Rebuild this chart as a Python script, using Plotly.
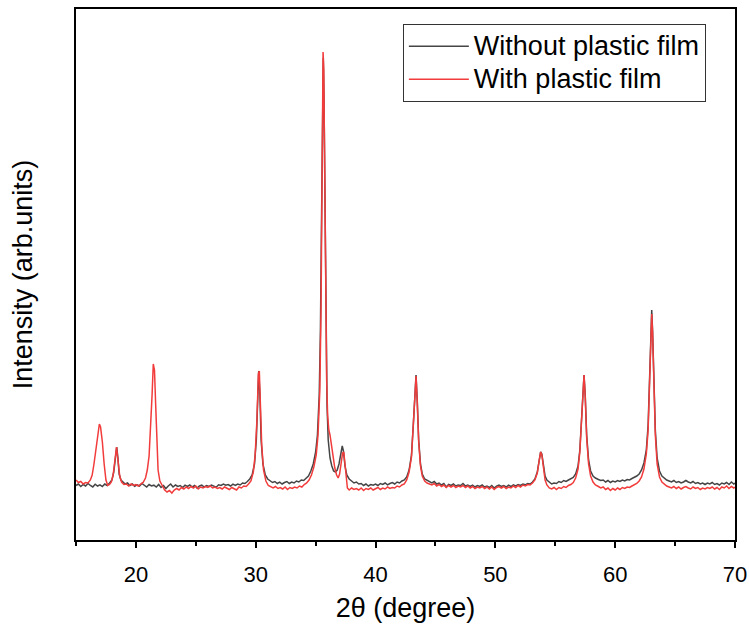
import plotly.graph_objects as go

# 2theta (degree), intensity (arb. units)
without_film_pts = [
    (15.0, 545), (15.2, 560), (15.4, 535), (15.6, 555), (15.8, 540), (16.0, 565), (16.2, 545),
    (16.4, 530), (16.6, 558), (16.8, 540), (17.0, 552), (17.2, 535), (17.4, 560), (17.6, 545),
    (17.8, 570), (18.0, 600), (18.15, 680), (18.3, 860), (18.4, 930), (18.5, 820), (18.6, 660),
    (18.75, 600), (18.9, 585), (19.1, 560), (19.3, 570), (19.5, 545), (19.7, 560), (19.9, 538),
    (20.1, 552), (20.3, 540), (20.5, 565), (20.7, 545), (20.9, 530), (21.1, 555), (21.3, 540),
    (21.5, 548), (21.7, 530), (21.9, 555), (22.1, 525), (22.3, 545), (22.5, 515), (22.7, 540),
    (22.9, 560), (23.1, 530), (23.3, 550), (23.5, 535), (23.7, 545), (23.9, 525), (24.1, 548),
    (24.3, 535), (24.5, 550), (24.7, 530), (24.9, 545), (25.1, 520), (25.3, 540), (25.5, 548),
    (25.7, 530), (25.9, 545), (26.1, 535), (26.3, 550), (26.5, 540), (26.7, 528), (26.9, 552),
    (27.1, 545), (27.3, 560), (27.5, 548), (27.7, 555), (27.9, 540), (28.1, 558), (28.3, 545),
    (28.5, 560), (28.7, 550), (28.9, 570), (29.1, 565), (29.3, 585), (29.5, 610), (29.7, 650),
    (29.9, 760), (30.05, 1000), (30.15, 1380), (30.25, 1690), (30.35, 1450), (30.45, 1000),
    (30.6, 760), (30.8, 650), (31.0, 610), (31.2, 590), (31.4, 575), (31.6, 585), (31.8, 565),
    (32.0, 578), (32.2, 560), (32.4, 575), (32.6, 585), (32.8, 565), (33.0, 580), (33.2, 570),
    (33.4, 590), (33.6, 580), (33.8, 600), (34.0, 595), (34.2, 620), (34.4, 640), (34.6, 690),
    (34.8, 760), (35.0, 880), (35.15, 1050), (35.3, 1450), (35.4, 2100), (35.5, 3300),
    (35.58, 4400), (35.64, 4820), (35.7, 4400), (35.78, 3300), (35.86, 2100), (35.95, 1350),
    (36.05, 1000), (36.2, 820), (36.35, 740), (36.5, 690), (36.65, 680), (36.8, 700),
    (36.95, 760), (37.1, 860), (37.22, 940), (37.32, 890), (37.45, 740), (37.6, 650),
    (37.8, 610), (38.0, 590), (38.2, 570), (38.4, 580), (38.6, 560), (38.8, 565), (39.0, 545),
    (39.2, 560), (39.4, 540), (39.6, 555), (39.8, 548), (40.0, 560), (40.2, 545), (40.4, 565),
    (40.6, 555), (40.8, 570), (41.0, 552), (41.2, 565), (41.4, 575), (41.6, 560), (41.8, 580),
    (42.0, 570), (42.2, 590), (42.4, 600), (42.6, 630), (42.8, 700), (43.0, 850), (43.15, 1150),
    (43.28, 1500), (43.38, 1650), (43.48, 1400), (43.6, 1000), (43.75, 760), (43.9, 660),
    (44.1, 610), (44.3, 595), (44.5, 580), (44.7, 570), (44.9, 585), (45.1, 560), (45.3, 570),
    (45.5, 550), (45.7, 565), (45.9, 530), (46.1, 555), (46.3, 545), (46.5, 560), (46.7, 540),
    (46.9, 550), (47.1, 545), (47.3, 565), (47.5, 540), (47.7, 550), (47.9, 535), (48.1, 548),
    (48.3, 530), (48.5, 545), (48.7, 535), (48.9, 550), (49.1, 530), (49.3, 540), (49.5, 525),
    (49.7, 545), (49.9, 520), (50.1, 538), (50.3, 550), (50.5, 535), (50.7, 545), (50.9, 530),
    (51.1, 548), (51.3, 535), (51.5, 552), (51.7, 540), (51.9, 555), (52.1, 545), (52.3, 560),
    (52.5, 552), (52.7, 565), (52.9, 560), (53.1, 580), (53.3, 610), (53.5, 680), (53.65, 790),
    (53.78, 880), (53.88, 860), (54.0, 740), (54.15, 640), (54.3, 600), (54.5, 575), (54.7, 560),
    (54.9, 570), (55.1, 565), (55.3, 585), (55.5, 575), (55.7, 595), (55.9, 585), (56.1, 600),
    (56.3, 610), (56.5, 625), (56.7, 660), (56.9, 740), (57.05, 900), (57.2, 1250),
    (57.32, 1600), (57.4, 1650), (57.5, 1450), (57.62, 1050), (57.78, 800), (57.95, 690),
    (58.15, 640), (58.35, 620), (58.6, 605), (58.8, 595), (59.0, 600), (59.2, 580), (59.4, 595),
    (59.6, 575), (59.8, 590), (60.0, 580), (60.2, 595), (60.4, 585), (60.6, 600), (60.8, 590),
    (61.0, 605), (61.2, 600), (61.4, 615), (61.6, 625), (61.8, 640), (62.0, 660), (62.2, 700),
    (62.4, 770), (62.6, 900), (62.75, 1150), (62.88, 1600), (62.98, 2100), (63.05, 2300),
    (63.12, 2100), (63.22, 1600), (63.35, 1100), (63.5, 820), (63.7, 690), (63.9, 640),
    (64.1, 615), (64.3, 600), (64.5, 590), (64.7, 580), (64.9, 595), (65.1, 575), (65.3, 585),
    (65.5, 570), (65.7, 580), (65.9, 595), (66.1, 580), (66.3, 570), (66.5, 585), (66.7, 565),
    (66.9, 575), (67.1, 560), (67.3, 570), (67.5, 555), (67.7, 570), (67.9, 560), (68.1, 575),
    (68.3, 555), (68.5, 565), (68.7, 550), (68.9, 570), (69.1, 560), (69.3, 575), (69.5, 555),
    (69.7, 580), (69.9, 560), (70.0, 570),
]

with_film_pts = [
    (15.0, 600), (15.2, 575), (15.4, 585), (15.6, 560), (15.8, 575), (16.0, 570), (16.2, 600),
    (16.35, 650), (16.5, 760), (16.65, 880), (16.8, 1020), (16.95, 1160), (17.05, 1130),
    (17.2, 980), (17.35, 760), (17.5, 600), (17.65, 545), (17.8, 555), (17.95, 580), (18.1, 650),
    (18.25, 800), (18.38, 930), (18.5, 800), (18.65, 640), (18.8, 580), (19.0, 555), (19.2, 560),
    (19.4, 540), (19.6, 560), (19.8, 545), (20.0, 555), (20.2, 540), (20.4, 560), (20.6, 575),
    (20.8, 620), (20.95, 700), (21.1, 840), (21.25, 1150), (21.35, 1450), (21.45, 1760),
    (21.55, 1700), (21.65, 1350), (21.75, 950), (21.85, 700), (22.0, 590), (22.2, 540),
    (22.4, 500), (22.6, 480), (22.8, 495), (23.0, 470), (23.2, 500), (23.4, 515), (23.6, 500),
    (23.8, 525), (24.0, 510), (24.2, 530), (24.4, 515), (24.6, 535), (24.8, 520), (25.0, 540),
    (25.2, 510), (25.4, 530), (25.6, 520), (25.8, 535), (26.0, 525), (26.2, 540), (26.4, 520),
    (26.6, 530), (26.8, 515), (27.0, 525), (27.2, 510), (27.4, 530), (27.6, 520), (27.8, 505),
    (28.0, 525), (28.2, 515), (28.4, 500), (28.6, 530), (28.8, 520), (29.0, 540), (29.2, 535),
    (29.4, 560), (29.6, 590), (29.8, 680), (29.95, 850), (30.1, 1200), (30.22, 1660),
    (30.3, 1690), (30.4, 1350), (30.5, 950), (30.65, 700), (30.85, 590), (31.05, 545),
    (31.25, 530), (31.45, 520), (31.65, 535), (31.85, 515), (32.05, 525), (32.25, 510),
    (32.45, 530), (32.65, 505), (32.85, 525), (33.05, 515), (33.25, 530), (33.45, 520),
    (33.65, 540), (33.85, 530), (34.05, 555), (34.25, 570), (34.45, 600), (34.65, 650),
    (34.85, 730), (35.05, 850), (35.2, 1050), (35.35, 1500), (35.45, 2300), (35.55, 3700),
    (35.62, 4880), (35.68, 4700), (35.76, 3600), (35.84, 2400), (35.92, 1600), (36.0, 1250),
    (36.1, 1100), (36.2, 1050), (36.32, 950), (36.45, 820), (36.6, 720), (36.75, 650),
    (36.88, 620), (37.0, 660), (37.12, 760), (37.25, 870), (37.35, 880), (37.45, 760),
    (37.55, 620), (37.65, 520), (37.8, 500), (38.0, 520), (38.2, 505), (38.4, 515), (38.6, 500),
    (38.8, 520), (39.0, 495), (39.2, 515), (39.4, 505), (39.6, 520), (39.8, 500), (40.0, 515),
    (40.2, 525), (40.4, 505), (40.6, 520), (40.8, 510), (41.0, 530), (41.2, 515), (41.4, 525),
    (41.6, 520), (41.8, 540), (42.0, 530), (42.2, 550), (42.4, 560), (42.6, 600), (42.8, 680),
    (43.0, 830), (43.15, 1150), (43.28, 1500), (43.38, 1640), (43.48, 1380), (43.6, 980),
    (43.75, 740), (43.9, 640), (44.1, 590), (44.3, 570), (44.5, 560), (44.7, 550), (44.9, 565),
    (45.1, 540), (45.3, 555), (45.5, 535), (45.7, 550), (45.9, 525), (46.1, 545), (46.3, 530),
    (46.5, 545), (46.7, 525), (46.9, 540), (47.1, 530), (47.3, 545), (47.5, 525), (47.7, 540),
    (47.9, 520), (48.1, 535), (48.3, 515), (48.5, 530), (48.7, 520), (48.9, 535), (49.1, 515),
    (49.3, 530), (49.5, 510), (49.7, 530), (49.9, 505), (50.1, 525), (50.3, 535), (50.5, 520),
    (50.7, 535), (50.9, 515), (51.1, 530), (51.3, 520), (51.5, 540), (51.7, 525), (51.9, 545),
    (52.1, 530), (52.3, 550), (52.5, 540), (52.7, 555), (52.9, 550), (53.1, 570), (53.3, 600),
    (53.5, 670), (53.65, 790), (53.78, 880), (53.88, 850), (54.0, 720), (54.15, 600),
    (54.3, 550), (54.5, 520), (54.7, 510), (54.9, 525), (55.1, 505), (55.3, 525), (55.5, 515),
    (55.7, 535), (55.9, 525), (56.1, 545), (56.3, 555), (56.5, 575), (56.7, 620), (56.9, 710),
    (57.05, 880), (57.2, 1230), (57.32, 1590), (57.4, 1650), (57.5, 1430), (57.62, 1020),
    (57.78, 760), (57.95, 640), (58.15, 580), (58.35, 550), (58.6, 535), (58.8, 520),
    (59.0, 530), (59.2, 505), (59.4, 520), (59.6, 495), (59.8, 515), (60.0, 500), (60.2, 520),
    (60.4, 505), (60.6, 525), (60.8, 515), (61.0, 530), (61.2, 525), (61.4, 540), (61.6, 550),
    (61.8, 565), (62.0, 590), (62.2, 630), (62.4, 710), (62.6, 860), (62.75, 1100),
    (62.88, 1560), (62.98, 2050), (63.05, 2260), (63.12, 2080), (63.22, 1560), (63.35, 1050),
    (63.5, 760), (63.7, 630), (63.9, 580), (64.1, 555), (64.3, 540), (64.5, 530), (64.7, 520),
    (64.9, 535), (65.1, 515), (65.3, 530), (65.5, 510), (65.7, 525), (65.9, 535), (66.1, 520),
    (66.3, 510), (66.5, 530), (66.7, 515), (66.9, 525), (67.1, 505), (67.3, 520), (67.5, 510),
    (67.7, 525), (67.9, 515), (68.1, 530), (68.3, 510), (68.5, 525), (68.7, 505), (68.9, 530),
    (69.1, 520), (69.3, 540), (69.5, 515), (69.7, 535), (69.9, 520), (70.0, 530),
]

series_names = ["Without plastic film", "With plastic film"]
series_colors = ["#454545", "#f23c3c"]
x_ticks = [20, 30, 40, 50, 60, 70]
x_title = "2θ (degree)"
y_title = "Intensity (arb.units)"

FONT = "Liberation Sans, Arial, sans-serif"

fig = go.Figure()
for pts, name, color in zip([without_film_pts, with_film_pts], series_names, series_colors):
    fig.add_trace(go.Scatter(
        x=[p[0] for p in pts], y=[p[1] for p in pts],
        mode="lines", name='<span style="font-size:27px">' + name + '</span>',
        line=dict(color=color, width=1.5),
    ))

fig.update_layout(
    width=749, height=628,
    margin=dict(l=76, r=14, t=9, b=88, autoexpand=False),
    paper_bgcolor="white", plot_bgcolor="white",
    font=dict(family=FONT, color="black"),
    showlegend=True,
    legend=dict(
        x=0.496, y=0.972, xanchor="left", yanchor="top",
        bgcolor="white", bordercolor="#333333", borderwidth=1,
        font=dict(size=23, family=FONT, color="black"),
        itemwidth=60, tracegroupgap=0,
    ),
)
fig.update_xaxes(
    range=[15, 70], tickvals=x_ticks, ticktext=[str(t) for t in x_ticks],
    showline=True, linecolor="black", linewidth=2, mirror=True,
    ticks="outside", ticklen=6, tickwidth=1.5, tickcolor="black",
    minor=dict(dtick=5, tick0=15, ticks="outside", ticklen=4, tickwidth=1.5, tickcolor="black"),
    tickfont=dict(size=22, family=FONT), ticklabelstandoff=8,
    title=dict(text=x_title, font=dict(size=27, family=FONT), standoff=12),
    showgrid=False, zeroline=False, automargin=False,
)
fig.update_yaxes(
    range=[0, 5310], showticklabels=False, ticks="",
    showline=True, linecolor="black", linewidth=2, mirror=True,
    title=dict(text=y_title, font=dict(size=27, family=FONT), standoff=34),
    showgrid=False, zeroline=False, automargin=False,
)

fig.write_html("out.html")
